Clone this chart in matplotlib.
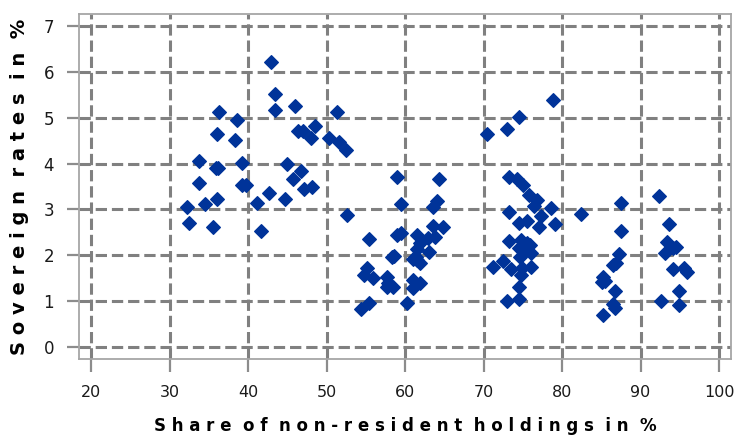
import numpy as np
from matplotlib import pyplot as plt

# share of non-resident holdings (%) and sovereign rates (%)
share_a = [32.2, 32.5, 33.8, 33.8, 34.5, 35.5, 36.0, 36.3, 35.9, 36.2, 36.0, 38.6,
           38.3, 39.2, 39.2, 39.7, 41.1, 41.7, 42.7, 42.9, 43.4, 43.4, 44.7, 45.0,
           46.0, 45.7, 46.4, 46.8, 47.0, 47.1, 48.0, 48.2, 48.5, 50.3, 51.3, 51.6,
           52.5, 52.6]
rate_a = [3.05, 2.70, 4.05, 3.58, 3.12, 2.62, 4.64, 5.12, 3.90, 3.90, 3.23, 4.95,
          4.51, 4.01, 3.53, 3.53, 3.14, 2.53, 3.36, 6.21, 5.52, 5.17, 3.23, 3.99,
          5.26, 3.66, 4.71, 3.84, 4.71, 3.45, 4.56, 3.49, 4.82, 4.56, 5.12, 4.47,
          4.30, 2.88]

share_b = [55.4, 55.2, 54.8, 55.9, 54.4, 55.4, 57.7, 57.8, 58.5, 57.7, 58.3, 58.6,
           59.0, 59.5, 59.0, 59.5, 60.3, 61.0, 61.9, 61.0, 61.5, 61.9, 61.5, 61.4,
           61.5, 61.0, 61.9, 63.1, 62.9, 63.8, 63.6, 64.8, 63.6, 64.1, 64.3]
rate_b = [2.36, 1.72, 1.57, 1.50, 0.83, 0.96, 1.53, 1.40, 1.31, 1.31, 1.96, 1.98,
          3.71, 3.12, 2.44, 2.49, 0.96, 1.46, 1.40, 1.29, 2.44, 2.27, 2.14, 1.96,
          1.90, 1.92, 1.83, 2.07, 2.38, 2.40, 2.64, 2.62, 3.05, 3.18, 3.66]

share_c = [70.4, 73.0, 74.5, 78.9, 73.2, 74.3, 75.0, 75.8, 76.8, 76.4, 78.6, 73.2,
           77.3, 82.4, 74.5, 75.5, 77.1, 79.1, 73.2, 74.8, 75.3, 75.9, 74.9, 76.1,
           74.6, 72.5, 71.2, 73.5, 74.9, 76.1, 74.8, 74.5, 73.0, 74.5, 75.5, 74.5]
rate_c = [4.64, 4.75, 5.02, 5.39, 3.71, 3.66, 3.53, 3.31, 3.21, 3.07, 3.03, 2.94,
          2.86, 2.90, 2.70, 2.75, 2.62, 2.68, 2.31, 2.33, 2.18, 2.22, 2.12, 2.05,
          1.96, 1.88, 1.74, 1.70, 1.72, 1.74, 1.57, 1.31, 1.00, 1.05, 2.27, 2.16]

share_d = [87.5, 92.4, 87.5, 93.6, 87.3, 86.9, 86.5, 93.4, 94.5, 94.1, 93.1, 94.1,
           95.5, 95.9, 85.2, 85.5, 85.1, 86.8, 94.9, 86.5, 86.8, 92.6, 94.9, 85.2]
rate_d = [3.14, 3.29, 2.53, 2.68, 2.03, 1.83, 1.79, 2.29, 2.18, 2.16, 2.05, 1.70,
          1.72, 1.64, 1.53, 1.44, 1.42, 1.22, 1.22, 0.94, 0.85, 1.00, 0.92, 0.70]

x_ticks = [20, 30, 40, 50, 60, 70, 80, 90, 100]
y_ticks = [0, 1, 2, 3, 4, 5, 6, 7]


def spaced(s, gap=' '):
    # letter-spaced text, double gap between words
    return '  '.join(gap.join(w) for w in s.split(' '))


def main():
    fig = plt.figure(figsize=(7.35, 4.41), dpi=100)
    ax = fig.add_axes([0.1075, 0.186, 0.8871, 0.782])

    ax.set_xlim(18.47, 101.53)
    ax.set_ylim(-0.26, 7.26)
    ax.grid(True, color='#808080', linewidth=2.2, linestyle='--')

    share = share_a + share_b + share_c + share_d
    rate = rate_a + rate_b + rate_c + rate_d
    ax.scatter(share, rate, marker='D', s=48, c='#003399', zorder=3)

    ax.set_xticks(x_ticks)
    ax.set_yticks(y_ticks)

    ax.tick_params(axis='both', direction='out', length=9, width=1.6,
                   color='#8C8C8C', labelsize=11.5, labelcolor='#1a1a1a')
    ax.tick_params(axis='x', pad=10)
    ax.tick_params(axis='y', labelsize=12, pad=9)
    for sp in ax.spines.values():
        sp.set_color('#A6A6A6')
        sp.set_linewidth(1.3)

    ax.set_xlabel(spaced('Share of non-resident holdings in %'),
                  fontsize=12, fontweight='bold', labelpad=12)
    ax.set_ylabel(spaced('Sovereign rates in %'),
                  fontsize=14, fontweight='bold', labelpad=10)

    fig.savefig('out.png', dpi=100)


if __name__ == '__main__':
    main()
